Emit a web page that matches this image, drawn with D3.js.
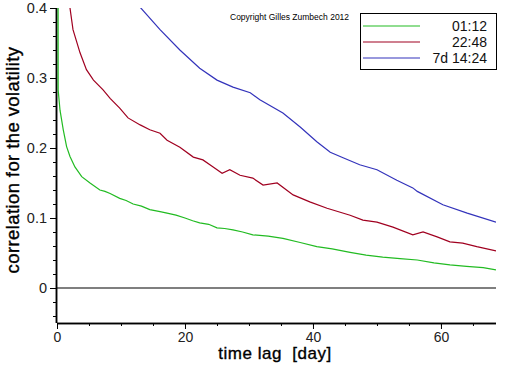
<!DOCTYPE html>
<html>
<head>
<meta charset="utf-8">
<script src="https://cdn.jsdelivr.net/npm/d3@7"></script>
<style>
  body { margin: 0; background: #fff; }
  svg { display: block; font-family: "Liberation Sans", Arial, sans-serif; }
</style>
</head>
<body>
<svg id="root" width="512" height="366"></svg>
<script>
"use strict";

// series: [time lag (day), correlation]
const green0112 = [
  [0.14, 0.9], [0.18, 0.283], [0.47, 0.254], [0.98, 0.226], [1.5, 0.202], [2.03, 0.188],
  [2.8, 0.173], [3.86, 0.159], [5.16, 0.15], [6.7, 0.14], [7.5, 0.138], [8.3, 0.135],
  [9.8, 0.128], [10.8, 0.125], [11.9, 0.12], [13.2, 0.117], [14.5, 0.112], [16.1, 0.109],
  [17.2, 0.107], [18.6, 0.104], [20, 0.1], [21.2, 0.096], [22.3, 0.093], [23.7, 0.091],
  [25, 0.086], [26.2, 0.085], [27.5, 0.083], [29, 0.08], [30.6, 0.076], [33, 0.074],
  [35.3, 0.071], [38, 0.065], [40.6, 0.059], [43, 0.056], [45.8, 0.051], [48.3, 0.047],
  [50.9, 0.044], [53.6, 0.042], [56.3, 0.04], [58.9, 0.036], [61.4, 0.033], [64, 0.031],
  [66.6, 0.029], [68.6, 0.026]
];
const red2248 = [
  [2.0, 0.402], [2.5, 0.369], [3.6, 0.336], [4.6, 0.312], [5.7, 0.297], [7.2, 0.283],
  [8.3, 0.271], [9.8, 0.257], [11.1, 0.243], [13, 0.233], [14.5, 0.226], [16.1, 0.221],
  [17.2, 0.211], [19.2, 0.201], [21.3, 0.187], [22.8, 0.183], [24.4, 0.173], [25.8, 0.164],
  [27, 0.169], [28.6, 0.161], [30.6, 0.157], [32.2, 0.147], [34.4, 0.15], [36.9, 0.133],
  [39.5, 0.123], [42.2, 0.114], [45.8, 0.104], [47.8, 0.097], [50, 0.094], [52.5, 0.087],
  [55.6, 0.076], [57.2, 0.08], [59.4, 0.073], [61.4, 0.066], [63.4, 0.064], [65.6, 0.059],
  [68.6, 0.053]
];
const blue7d1424 = [
  [13.0, 0.401], [16.1, 0.369], [19.2, 0.34], [22.3, 0.314], [25, 0.297], [27.5, 0.287],
  [30.2, 0.279], [31.7, 0.269], [35.3, 0.25], [38, 0.23], [40.6, 0.209], [42.7, 0.194],
  [44.7, 0.186], [47.3, 0.176], [50, 0.169], [53.1, 0.154], [55.6, 0.143], [56.3, 0.138],
  [60.3, 0.119], [64.1, 0.107], [68.6, 0.094]
];

const seriesNames = ["01:12", "22:48", "7d 14:24"];
const seriesColors = ["#22bb22", "#a00020", "#3333bb"];
const xMajorTicks = [0, 20, 40, 60];
const yMajorTicks = [0, 0.1, 0.2, 0.3, 0.4];

const svg = d3.select("#root");
const plotLeft = 57, plotRight = 496, plotTop = 8, plotBottom = 323;

const xScale = d3.scaleLinear().domain([0, 68.6]).range([plotLeft, plotRight]);
const yScale = d3.scaleLinear().domain([-0.05, 0.4]).range([plotBottom, plotTop]);

svg.append("defs").append("clipPath").attr("id", "plotClip")
  .append("rect")
  .attr("x", plotLeft).attr("y", plotTop)
  .attr("width", plotRight - plotLeft).attr("height", plotBottom - plotTop);

// zero line
svg.append("line")
  .attr("x1", plotLeft).attr("x2", plotRight)
  .attr("y1", yScale(0)).attr("y2", yScale(0))
  .attr("stroke", "black").attr("stroke-width", 1.2);

// x axis
const xAxisG = svg.append("g").attr("transform", `translate(0,${plotBottom})`);
xAxisG.call(d3.axisBottom(xScale).tickValues(d3.range(0, 68, 5)).tickSize(3).tickFormat(""));
xAxisG.append("g").call(d3.axisBottom(xScale).tickValues(xMajorTicks).tickSize(6).tickPadding(3));
xAxisG.selectAll(".domain").attr("d", `M${plotLeft},0.5H${plotRight}`).attr("stroke-width", 1.5);
xAxisG.selectAll("text").attr("font-size", 14).attr("fill", "#222")
  .attr("font-family", "Liberation Sans, Arial, sans-serif");

// y axis
const yAxisG = svg.append("g").attr("transform", `translate(${plotLeft},0)`);
yAxisG.call(d3.axisLeft(yScale).tickValues(d3.range(-0.04, 0.41, 0.02)).tickSize(4).tickFormat(""));
yAxisG.append("g").call(d3.axisLeft(yScale).tickValues(yMajorTicks).tickSize(7).tickPadding(3)
  .tickFormat(d => d === 0 ? "0" : d3.format(".1f")(d)));
yAxisG.selectAll(".domain").attr("d", `M-0.5,${plotTop}V${plotBottom}`).attr("stroke-width", 1.5);
yAxisG.selectAll("text").attr("font-size", 14.5).attr("fill", "#222")
  .attr("font-family", "Liberation Sans, Arial, sans-serif");

// lines
const line = d3.line().x(d => xScale(d[0])).y(d => yScale(d[1]));
const plot = svg.append("g").attr("clip-path", "url(#plotClip)");
[green0112, red2248, blue7d1424].forEach((data, i) => {
  plot.append("path")
    .datum(data)
    .attr("d", line)
    .attr("fill", "none")
    .attr("stroke", seriesColors[i])
    .attr("stroke-width", 1.2);
});

// axis titles
svg.append("text")
  .attr("x", 275).attr("y", 359)
  .attr("text-anchor", "middle")
  .attr("font-size", 17)
  .attr("letter-spacing", 0.5)
  .attr("fill", "#000")
  .attr("stroke", "#000").attr("stroke-width", 0.35)
  .style("white-space", "pre")
  .text("time lag  [day]");

svg.append("text")
  .attr("transform", "translate(19,160) rotate(-90)")
  .attr("text-anchor", "middle")
  .attr("font-size", 18.5)
  .attr("letter-spacing", 0.4)
  .attr("fill", "#000")
  .attr("stroke", "#000").attr("stroke-width", 0.35)
  .text("correlation for the volatility");

// copyright
svg.append("text")
  .attr("x", 230).attr("y", 20)
  .attr("font-size", 8.5)
  .attr("fill", "#000")
  .text("Copyright Gilles Zumbech 2012");

// legend
const legend = svg.append("g").attr("transform", "translate(360,13)");
legend.append("rect")
  .attr("x", 0.5).attr("y", 0.5)
  .attr("width", 136).attr("height", 56)
  .attr("fill", "white").attr("stroke", "black");
const items = legend.selectAll("g.item")
  .data(seriesNames)
  .join("g")
  .attr("class", "item")
  .attr("transform", (d, i) => `translate(0,${13 + i * 16})`);
items.append("line")
  .attr("x1", 3).attr("x2", 60)
  .attr("stroke", (d, i) => seriesColors[i])
  .attr("stroke-width", 1.2);
items.append("text")
  .attr("x", 127).attr("y", 5)
  .attr("text-anchor", "end")
  .attr("font-size", 14)
  .attr("fill", "#111")
  .style("white-space", "pre")
  .text(d => d);
</script>
</body>
</html>
